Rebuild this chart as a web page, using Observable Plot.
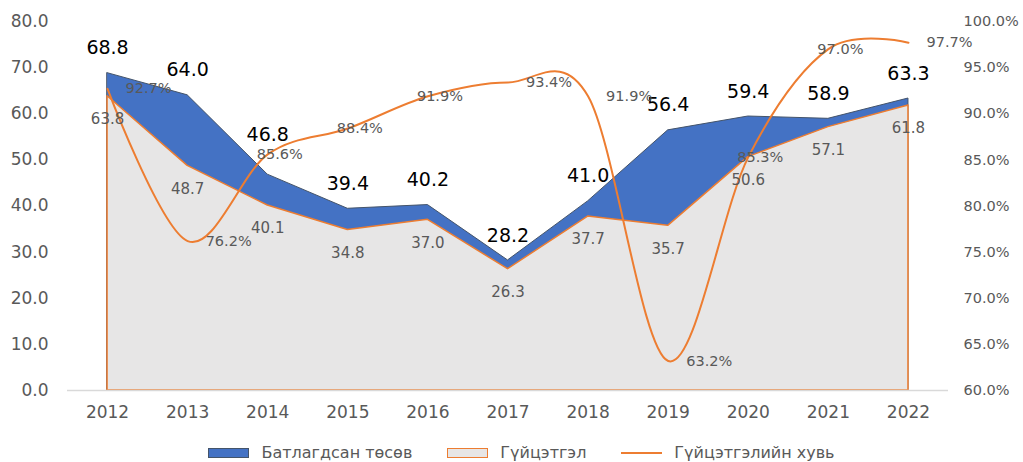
<!DOCTYPE html>
<html><head><meta charset="utf-8">
<script src="https://cdn.jsdelivr.net/npm/d3@7"></script>
<script src="https://cdn.jsdelivr.net/npm/@observablehq/plot@0.6"></script>
<style>
body{margin:0;background:#fff;font-family:"DejaVu Sans",sans-serif;overflow:hidden;}
#legend{display:flex;justify-content:center;align-items:center;gap:35px;padding-top:15px;padding-left:20px;font-size:16px;line-height:16px;color:#595959;}
.item{display:flex;align-items:center;gap:12px;}
.sw{width:41px;height:10px;box-sizing:border-box;}
</style></head><body><div id="chart"></div>
<div id="legend">
  <div class="item"><div class="sw" style="background:#4472C4;border:1px solid #44546A"></div><span>Батлагдсан төсөв</span></div>
  <div class="item"><div class="sw" style="background:#E7E6E6;border:1.5px solid #ED7D31"></div><span>Гүйцэтгэл</span></div>
  <div class="item"><div class="sw" style="height:2px;background:#ED7D31"></div><span>Гүйцэтгэлийн хувь</span></div>
</div>
<script>
const years = [2012, 2013, 2014, 2015, 2016, 2017, 2018, 2019, 2020, 2021, 2022];
const approved = [68.8, 64.0, 46.8, 39.4, 40.2, 28.2, 41.0, 56.4, 59.4, 58.9, 63.3];
const actual = [63.8, 48.7, 40.1, 34.8, 37.0, 26.3, 37.7, 35.7, 50.6, 57.1, 61.8];
const pct = [92.7, 76.2, 85.6, 88.4, 91.9, 93.4, 91.9, 63.2, 85.3, 97.0, 97.7];
const leftTicks = [0, 10, 20, 30, 40, 50, 60, 70, 80];
const rightTicks = [60, 65, 70, 75, 80, 85, 90, 95, 100];
const pctLabelsShifted = [2014, 2015, 2016, 2020, 2021];
const approvedLabelsRaised = [2014];

const data = years.map((year, i) => ({year, approved: approved[i], actual: actual[i], pct: pct[i]}));
// right axis 60%..100% maps onto left scale 0..80
const pctToY = p => (p - 60) * 2;
const yToPct = v => v / 2 + 60;

const chart = Plot.plot({
  width: 1023, height: 430,
  marginLeft: 67, marginRight: 75, marginTop: 21, marginBottom: 40,
  style: {fontFamily: "DejaVu Sans", fontSize: "17px", color: "#595959", background: "white"},
  x: {type: "linear", domain: [2011.5, 2022.5], axis: null},
  y: {domain: [0, 80], axis: null},
  marks: [
    Plot.areaY(data, {x: "year", y: "approved", fill: "#4472C4", stroke: "#44546A", strokeWidth: 1}),
    Plot.areaY(data, {x: "year", y: "actual", fill: "#E7E6E6", stroke: "#ED7D31", strokeWidth: 1.5}),
    Plot.ruleY([0], {stroke: "#D9D9D9", strokeWidth: 1.5}),
    Plot.lineY(data, {x: "year", y: d => pctToY(d.pct), stroke: "#ED7D31", strokeWidth: 2, curve: "cardinal"}),
    Plot.axisY(leftTicks, {anchor: "left", label: null, tickSize: 0, tickPadding: 19, tickFormat: d => d.toFixed(1), fill: "#595959", fontSize: 17}),
    Plot.axisY(rightTicks.map(pctToY), {anchor: "right", label: null, tickSize: 0, tickPadding: 15, tickFormat: d => yToPct(d).toFixed(1) + "%", fill: "#595959", fontSize: 14.5}),
    Plot.axisX(years, {anchor: "bottom", label: null, tickSize: 0, tickPadding: 15, tickFormat: d => String(d), fill: "#595959", fontSize: 17}),
    Plot.text(data, {x: "year", y: "approved", text: d => d.approved.toFixed(1), fontSize: 19, fill: "#000", filter: d => !approvedLabelsRaised.includes(d.year), dy: -25}),
    Plot.text(data, {x: "year", y: "approved", text: d => d.approved.toFixed(1), fontSize: 19, fill: "#000", filter: d => approvedLabelsRaised.includes(d.year), dy: -40}),
    Plot.text(data, {x: "year", y: "actual", text: d => d.actual.toFixed(1), dy: 23, fontSize: 15, fill: "#595959"}),
    Plot.text(data, {x: "year", y: d => pctToY(d.pct), text: d => d.pct.toFixed(1) + "%", textAnchor: "start", dx: 18, fontSize: 14.5, fill: "#595959", filter: d => !pctLabelsShifted.includes(d.year)}),
    Plot.text(data, {x: "year", y: d => pctToY(d.pct), text: d => d.pct.toFixed(1) + "%", textAnchor: "start", dx: -11, fontSize: 14.5, fill: "#595959", filter: d => pctLabelsShifted.includes(d.year)})
  ]
});
document.getElementById("chart").append(chart);
</script>
</body></html>
